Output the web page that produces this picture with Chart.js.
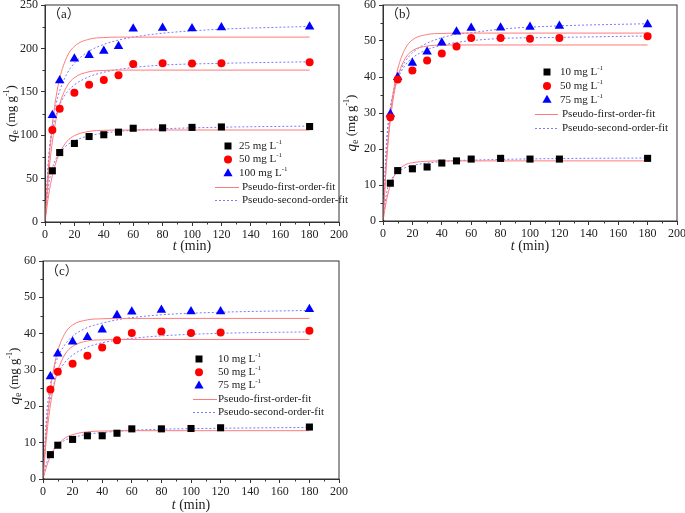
<!DOCTYPE html>
<html>
<head>
<meta charset="utf-8">
<title>Adsorption kinetics</title>
<style>
  html, body { margin: 0; padding: 0; background: #fff; overflow: hidden; }
  body { width: 685px; height: 513px; position: relative; }
  canvas { position: absolute; }
</style>
</head>
<body>
<canvas id="chartA" width="360" height="270" style="left:0;top:-15px"></canvas>
<canvas id="chartB" width="360" height="270" style="left:340px;top:-15px"></canvas>
<canvas id="chartC" width="360" height="268" style="left:0;top:245px"></canvas>
<script src="https://cdn.jsdelivr.net/npm/chart.js@4.4.0/dist/chart.umd.min.js"></script>
<script>

// sampling times (min)
const times = [0, 5, 10, 20, 30, 40, 50, 60, 80, 100, 120, 180];
const fitTimes = [0, 2.5, 5, 7.5, 10, 15, 20, 30, 40, 50, 60, 80, 120, 180];

// (a)
const a25 = [0, 59, 80, 90.5, 98.5, 100.5, 103.5, 108, 108.5, 109, 109.5, 110];
const a50 = [0, 106, 130.5, 149, 158, 163.5, 169, 182, 183, 182.5, 183, 184];
const a100 = [0, 123, 163, 188, 192, 197, 202.5, 222.5, 223.5, 223, 224, 225];
const aFirst25 = [0, 31.3, 53.4, 68.9, 79.8, 93.0, 99.5, 104.4, 105.6, 105.9, 106, 106, 106, 106];
const aSecond25 = [0, 42.6, 61.9, 72.9, 80.0, 88.6, 93.6, 99.3, 102.4, 104.4, 105.7, 107.4, 109.2, 110.5];
const aFirst50 = [0, 54.8, 92.4, 118.2, 136.0, 156.6, 166.3, 173.1, 174.6, 175, 175, 175, 175, 175];
const aSecond50 = [0, 72.5, 105, 123.4, 135.2, 149.6, 158.0, 167.4, 172.5, 175.8, 178.0, 180.8, 182.8, 184.6];
const aFirst100 = [0, 66.7, 112.5, 143.8, 165.5, 190.6, 202.4, 210.6, 212.5, 213, 213, 213, 213, 213];
const aSecond100 = [0, 73.9, 112.1, 135.4, 151.2, 171.0, 183.0, 196.8, 204.6, 209.6, 213.0, 217.5, 222.1, 225.3];

// (b)
const b10 = [0, 10.5, 14, 14.5, 15, 16.1, 16.7, 17.2, 17.4, 17.2, 17.2, 17.4];
const b50 = [0, 28.8, 39.3, 41.8, 44.6, 46.5, 48.5, 50.8, 50.8, 50.6, 50.8, 51.3];
const b75 = [0, 29.7, 39.9, 43.9, 47, 49.5, 52.6, 53.6, 53.7, 53.9, 54.2, 54.6];
const bFirst10 = [0, 6.05, 9.9, 12.4, 13.9, 15.6, 16.2, 16.6, 16.7, 16.7, 16.7, 16.7, 16.7, 16.7];
const bSecond10 = [0, 7.97, 11.0, 12.6, 13.6, 14.8, 15.4, 16.1, 16.5, 16.8, 16.9, 17.1, 17.35, 17.5];
const bFirst50 = [0, 16.9, 28.0, 35.2, 40.0, 45.1, 47.3, 48.6, 48.85, 48.9, 48.9, 48.9, 48.9, 48.9];
const bSecond50 = [0, 22.4, 31.5, 36.4, 39.5, 43.2, 45.3, 47.6, 48.8, 49.6, 50.1, 50.7, 51.0, 51.4];
const bFirst75 = [0, 17.6, 29.3, 37.1, 42.2, 47.8, 50.3, 51.8, 52.1, 52.2, 52.2, 52.2, 52.2, 52.2];
const bSecond75 = [0, 21.5, 31.1, 36.5, 40.0, 44.2, 46.7, 49.4, 50.9, 51.9, 52.3, 53.3, 54.2, 54.8];

// (c)
const c10 = [0, 6.7, 9.3, 10.9, 11.9, 11.9, 12.6, 13.8, 13.8, 13.9, 14.1, 14.3];
const c50 = [0, 24.6, 29.5, 31.7, 33.9, 36.2, 38.2, 40.2, 40.6, 40.2, 40.3, 40.8];
const c75 = [0, 28.2, 34.5, 37.8, 39, 41.1, 45.1, 46, 46.5, 46.1, 46.1, 46.7];
const cFirst10 = [0, 3.57, 6.2, 8.1, 9.5, 11.3, 12.2, 13.0, 13.2, 13.27, 13.3, 13.3, 13.3, 13.3];
const cSecond10 = [0, 4.55, 6.9, 8.4, 9.4, 10.7, 11.4, 12.3, 12.8, 13.1, 13.4, 13.7, 13.96, 14.2];
const cFirst50 = [0, 12.0, 20.3, 25.9, 29.8, 34.4, 36.5, 38.0, 38.3, 38.4, 38.4, 38.4, 38.4, 38.4];
const cSecond50 = [0, 15.2, 22.3, 26.4, 29.0, 32.2, 34.1, 36.3, 37.5, 38.2, 38.7, 39.4, 40.1, 40.5];
const cFirst75 = [0, 14.6, 24.4, 30.9, 35.3, 40.2, 42.4, 43.8, 44.1, 44.2, 44.2, 44.2, 44.2, 44.2];
const cSecond75 = [0, 17.8, 25.9, 30.5, 33.5, 37.1, 39.3, 41.7, 42.9, 43.8, 44.4, 45.2, 45.9, 46.4];

const labelsA = ['25', '50', '100'];
const labelsBC = ['10', '50', '75'];

const SERIF = '"Liberation Serif", "Times New Roman", serif';
const FIRST_COLOR = '#ff7a7a';
const SECOND_COLOR = '#7a7aff';

function pts(xs, ys) {
    return xs.map(function(x, i) { return {x: x, y: ys[i]}; });
}

// draws a run of text pieces with different fonts / offsets
function drawRich(ctx, parts, x, y) {
    let total = 0;
    for (let p of parts) { ctx.font = p[1]; total += ctx.measureText(p[0]).width; }
    let cx = x - total / 2;
    for (let p of parts) {
        ctx.font = p[1];
        ctx.fillText(p[0], cx, y + (p[2] || 0));
        cx += ctx.measureText(p[0]).width;
    }
}

function drawMarker(ctx, style, x, y, color) {
    ctx.fillStyle = color;
    ctx.beginPath();
    if (style === 'rect') {
        ctx.rect(x - 3.5, y - 3.5, 7, 7);
    } else if (style === 'circle') {
        ctx.arc(x, y, 4, 0, Math.PI * 2);
    } else {
        ctx.moveTo(x, y - 5);
        ctx.lineTo(x + 4.6, y + 3);
        ctx.lineTo(x - 4.6, y + 3);
        ctx.closePath();
    }
    ctx.fill();
}

function makeChart(id, p) {
    const markerStyles = ['rect', 'circle', 'triangle'];
    const markerColors = ['#000000', '#ff0000', '#0000ff'];
    const markerSizes = [5, 4, 5.5];
    let datasets = [];
    p.points.forEach(function(ys, i) {
        datasets.push({
            label: p.labels[i] + ' mg L-1',
            data: pts(times, ys),
            showLine: false,
            pointStyle: markerStyles[i],
            pointRadius: function(c) { return c.dataIndex === 0 ? 1.5 : markerSizes[i]; },
            backgroundColor: markerColors[i],
            borderColor: markerColors[i],
            borderWidth: 0
        });
    });
    p.first.forEach(function(ys) {
        datasets.push({
            label: 'Pseudo-first-order-fit',
            data: pts(fitTimes, ys),
            showLine: true,
            pointRadius: 0,
            borderColor: FIRST_COLOR,
            borderWidth: 1,
            cubicInterpolationMode: 'monotone'
        });
    });
    p.second.forEach(function(ys) {
        datasets.push({
            label: 'Pseudo-second-order-fit',
            data: pts(fitTimes, ys),
            showLine: true,
            pointRadius: 0,
            borderColor: SECOND_COLOR,
            borderWidth: 1,
            borderDash: [2, 2],
            cubicInterpolationMode: 'monotone'
        });
    });

    const decor = {
        id: 'decor',
        afterDraw: function(chart) {
            const ctx = chart.ctx;
            const a = chart.chartArea;
            const xs = chart.scales.x, ys = chart.scales.y;
            ctx.save();
            // frame
            ctx.strokeStyle = '#333';
            ctx.lineWidth = 1;
            ctx.strokeRect(a.left, a.top, a.right - a.left, a.bottom - a.top);
            // minor ticks
            ctx.beginPath();
            for (let v = 10; v < 200; v += 20) {
                let px = Math.round(xs.getPixelForValue(v)) + 0.5;
                ctx.moveTo(px, a.bottom); ctx.lineTo(px, a.bottom + 2.5);
            }
            for (let v = p.yStep / 2; v < p.yMax; v += p.yStep) {
                let py = Math.round(ys.getPixelForValue(v)) + 0.5;
                ctx.moveTo(a.left, py); ctx.lineTo(a.left - 2.5, py);
            }
            ctx.stroke();

            ctx.fillStyle = '#222';
            ctx.textBaseline = 'middle';
            // panel label
            ctx.font = '13px ' + SERIF + ', "Noto Sans CJK SC"';
            ctx.textAlign = 'left';
            ctx.fillText(p.tag, a.left + 3, a.top + p.tagDy);
            // x title
            drawRich(ctx, [['t', 'italic 14px ' + SERIF], [' (min)', '14px ' + SERIF]],
                (a.left + a.right) / 2, a.bottom + p.xTitleDy);
            // y title
            ctx.save();
            ctx.translate(a.left - p.yTitleDx, (a.top + a.bottom) / 2 + p.yTitleDy);
            ctx.rotate(-Math.PI / 2);
            drawRich(ctx, [['q', 'italic 15px ' + SERIF], ['e', '10px ' + SERIF, 3],
                [' (mg g', '13px ' + SERIF], ['-1', '8px ' + SERIF, -5], [')', '13px ' + SERIF]], 0, 0);
            ctx.restore();

            // legend
            const L = p.legend;
            ctx.textAlign = 'left';
            for (let i = 0; i < 3; i++) {
                let y = a.top + L.y0 + i * L.dy;
                drawMarker(ctx, markerStyles[i], a.left + L.mx, y, markerColors[i]);
                ctx.fillStyle = '#222';
                ctx.font = '11px ' + SERIF;
                let tx = a.left + L.tx;
                let main = p.labels[i] + ' mg L';
                ctx.fillText(main, tx, y);
                let w = ctx.measureText(main).width;
                ctx.font = '7px ' + SERIF;
                ctx.fillText('-1', tx + w, y - 4);
            }
            const lines = [['Pseudo-first-order-fit', FIRST_COLOR, []], ['Pseudo-second-order-fit', SECOND_COLOR, [2, 2]]];
            lines.forEach(function(ln, j) {
                let y = Math.round(a.top + L.y0 + (3 + j) * L.dy) + 0.5;
                ctx.strokeStyle = ln[1];
                ctx.setLineDash(ln[2]);
                ctx.beginPath();
                ctx.moveTo(a.left + L.lx0, y); ctx.lineTo(a.left + L.lx1, y);
                ctx.stroke();
                ctx.setLineDash([]);
                ctx.fillStyle = '#222';
                ctx.font = '11px ' + SERIF;
                ctx.fillText(ln[0], a.left + L.ltx, y);
            });
            ctx.restore();
        }
    };

    return new Chart(document.getElementById(id).getContext('2d'), {
        type: 'scatter',
        data: { datasets: datasets },
        options: {
            responsive: false,
            animation: false,
            layout: { padding: { top: p.padTop, right: p.padRight, left: 0, bottom: 0 } },
            plugins: { legend: { display: false }, tooltip: { enabled: false } },
            scales: {
                x: {
                    type: 'linear', min: 0, max: 200,
                    ticks: { stepSize: 20, color: '#222', padding: 2, font: { family: SERIF, size: 12 } },
                    grid: { drawOnChartArea: false, tickLength: 4, tickColor: '#333' },
                    border: { color: '#333', width: 1 },
                    afterFit: function(s) { s.height = p.xHeight; }
                },
                y: {
                    type: 'linear', min: 0, max: p.yMax,
                    ticks: { stepSize: p.yStep, color: '#222', padding: 3, font: { family: SERIF, size: 12 } },
                    grid: { drawOnChartArea: false, tickLength: 4, tickColor: '#333' },
                    border: { color: '#333', width: 1 },
                    afterFit: function(s) { s.width = p.yWidth; }
                }
            }
        },
        plugins: [decor]
    });
}

makeChart('chartA', {
    points: [a25, a50, a100],
    first: [aFirst25, aFirst50, aFirst100],
    second: [aSecond25, aSecond50, aSecond100],
    labels: labelsA, tag: '（a）', tagDy: 10,
    yMax: 250, yStep: 50,
    padTop: 20, padRight: 21, yWidth: 45, xHeight: 33,
    xTitleDy: 24, yTitleDx: 33, yTitleDy: 0,
    legend: { mx: 183, tx: 194, y0: 141, dy: 13.6, lx0: 170, lx1: 194, ltx: 197 }
});

makeChart('chartB', {
    points: [b10, b50, b75],
    first: [bFirst10, bFirst50, bFirst75],
    second: [bSecond10, bSecond50, bSecond75],
    labels: labelsBC, tag: '（b）', tagDy: 10,
    yMax: 60, yStep: 10,
    padTop: 20, padRight: 23, yWidth: 43, xHeight: 34,
    xTitleDy: 25, yTitleDx: 31, yTitleDy: 10,
    legend: { mx: 164, tx: 177, y0: 67, dy: 13.9, lx0: 152, lx1: 175, ltx: 179 }
});

makeChart('chartC', {
    points: [c10, c50, c75],
    first: [cFirst10, cFirst50, cFirst75],
    second: [cSecond10, cSecond50, cSecond75],
    labels: labelsBC, tag: '（c）', tagDy: 11,
    yMax: 60, yStep: 10,
    padTop: 16, padRight: 21, yWidth: 43, xHeight: 34,
    xTitleDy: 26, yTitleDx: 28, yTitleDy: 6,
    legend: { mx: 156, tx: 175, y0: 98, dy: 13.3, lx0: 150, lx1: 174, ltx: 175 }
});

</script>
</body>
</html>
